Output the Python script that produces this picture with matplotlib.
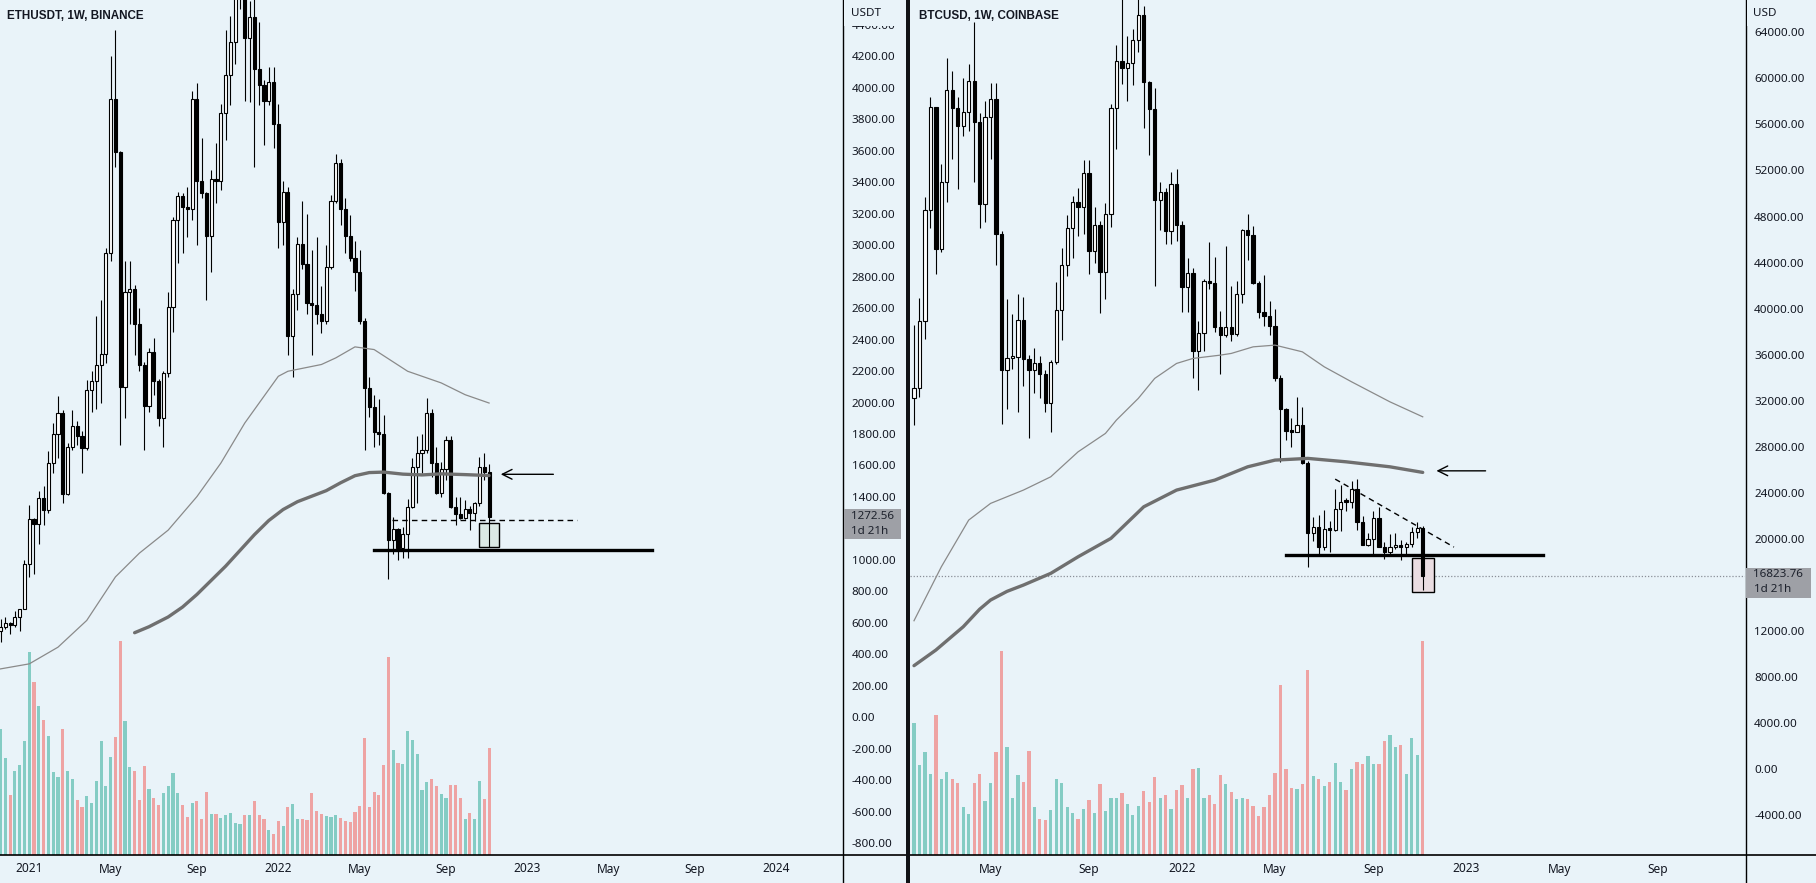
import numpy as np
import pandas as pd
import matplotlib
matplotlib.use('Agg')
import matplotlib.pyplot as plt
from matplotlib.patches import Rectangle
from matplotlib.lines import Line2D
from matplotlib.transforms import blended_transform_factory

plt.rcParams['font.family'] = ['Noto Sans', 'DejaVu Sans']

W, H = 1816, 883
BG = '#e9f3f9'
INK = '#131722'
UP_VOL = '#84ccc4'
DN_VOL = '#eea3a3'

# ---------------- ETHUSDT weekly (Binance) ----------------
eth_start = '2020-11-23'
eth_open = [550, 575, 600, 585, 638, 685, 975, 1262, 1230, 1391,
            1314, 1614, 1800, 1935, 1416, 1720, 1851, 1790, 1710, 2080,
            2140, 2240, 2310, 2950, 3930, 3590, 2100, 2700, 2720, 2500,
            2240, 1980, 2320, 2140, 1900, 2190, 2610, 3160, 3310, 3240,
            3230, 3930, 3410, 3330, 3060, 3420, 3410, 3840, 4080, 4290,
            4620, 4640, 4320, 4450, 4120, 4020, 3920, 4040, 3770, 3150,
            3340, 2420, 2690, 3010, 2880, 2630, 2620, 2560, 2520, 2860,
            3280, 3520, 3230, 3060, 2920, 2830, 2520, 2090, 1970, 1810,
            1800, 1424, 1126, 1194, 1073, 1164, 1338, 1593, 1680, 1700,
            1935, 1616, 1425, 1578, 1763, 1336, 1292, 1266, 1321, 1300,
            1360, 1591, 1561]
eth_high = [622, 635, 605, 675, 690, 1000, 1350, 1265, 1440, 1470,
            1690, 1870, 2040, 1950, 1740, 1950, 1880, 1820, 2145, 2200,
            2550, 2650, 2980, 4200, 4370, 3600, 2900, 2900, 2750, 2600,
            2260, 2350, 2410, 2150, 2200, 2700, 3180, 3340, 3330, 3370,
            3980, 4030, 3680, 3340, 3480, 3650, 3900, 4370, 4460, 4660,
            4870, 4650, 4550, 4780, 4420, 4050, 4130, 4130, 3900, 3410,
            3370, 2720, 3050, 3280, 3200, 2970, 3050, 2740, 3000, 3320,
            3580, 3550, 3300, 3190, 3030, 2970, 2540, 2160, 2050, 2020,
            1920, 1430, 1270, 1200, 1210, 1390, 1650, 1790, 1800, 2030,
            1960, 1720, 1620, 1790, 1790, 1400, 1400, 1380, 1340, 1370,
            1657, 1682, 1610]
eth_low = [480, 560, 530, 575, 550, 685, 890, 910, 1100, 1220,
           1300, 1550, 1650, 1360, 1410, 1700, 1730, 1550, 1700, 1940,
           1960, 2000, 2250, 2900, 3500, 1730, 1900, 2500, 2300, 2200,
           1700, 1940, 2050, 1850, 1720, 2160, 2450, 2890, 2950, 3050,
           3160, 3000, 3300, 2650, 2830, 3270, 3350, 3670, 3890, 4150,
           4500, 3920, 3910, 3500, 3890, 3640, 3890, 3620, 2980, 3000,
           2300, 2160, 2590, 2850, 2560, 2300, 2500, 2440, 2500, 2850,
           3270, 3130, 2950, 2900, 2710, 2500, 1700, 1910, 1720, 1730,
           1420, 880, 1040, 1000, 1010, 1010, 1330, 1360, 1550, 1680,
           1530, 1420, 1400, 1510, 1330, 1220, 1260, 1260, 1190, 1250,
           1340, 1510, 1079]
eth_close = [575, 600, 585, 638, 685, 975, 1262, 1230, 1391, 1314,
             1614, 1800, 1935, 1416, 1720, 1851, 1790, 1710, 2080, 2140,
             2240, 2310, 2950, 3930, 3590, 2100, 2700, 2720, 2500, 2240,
             1980, 2320, 2140, 1900, 2190, 2610, 3160, 3310, 3240, 3230,
             3930, 3410, 3330, 3060, 3420, 3410, 3840, 4080, 4290, 4620,
             4640, 4320, 4450, 4120, 4020, 3920, 4040, 3770, 3150, 3340,
             2420, 2690, 3010, 2880, 2630, 2620, 2560, 2520, 2860, 3280,
             3520, 3230, 3060, 2920, 2830, 2520, 2090, 1970, 1810, 1800,
             1424, 1126, 1194, 1073, 1164, 1338, 1593, 1680, 1700, 1935,
             1616, 1425, 1578, 1763, 1336, 1292, 1266, 1321, 1300, 1360,
             1591, 1561, 1272.56]
eth_vol = [126, 97, 60, 84, 90, 114, 203, 173, 149, 135,
           119, 83, 78, 126, 84, 76, 55, 48, 59, 52,
           74, 114, 69, 98, 118, 214, 134, 88, 84, 55,
           89, 66, 57, 50, 62, 69, 82, 62, 50, 38,
           52, 54, 36, 63, 41, 41, 37, 40, 42, 32,
           31, 40, 40, 54, 40, 36, 25, 21, 34, 29,
           48, 51, 36, 36, 35, 62, 44, 41, 39, 38,
           40, 37, 34, 33, 43, 49, 117, 48, 63, 60,
           90, 198, 105, 92, 91, 124, 115, 101, 65, 73,
           76, 69, 61, 57, 70, 70, 57, 36, 42, 36,
           74, 56, 107]
# moving averages (week index -> value)
eth_ma_thin_idx = [0, 6, 12, 18, 24, 29, 35, 41, 46, 51, 58, 60, 67, 70, 74, 78, 85, 92, 97, 102]
eth_ma_thin = [307, 339, 445, 615, 892, 1043, 1189, 1402, 1615, 1870,
               2167, 2199, 2242, 2284, 2354, 2337, 2199, 2125, 2050, 1997]
eth_ma_thick_idx = [28, 31, 35, 38, 41, 44, 47, 50, 53, 56, 59, 62, 65, 68, 71, 74,
                    77, 80, 84, 88, 92, 97, 102]
eth_ma_thick = [537, 575, 637, 700, 780, 870, 960, 1060, 1160, 1250, 1320, 1370,
                1405, 1440, 1490, 1535, 1555, 1558, 1545, 1540, 1547, 1542, 1536]
eth_last = 1272.56
eth_support = 1063
eth_mid_level = 1252
eth_box = (1080, 1236)
eth_arrow_level = 1544
eth_ticks = np.arange(-800, 4401, 200)
eth_date_ticks = ['2021-01-04', '2021-05-03', '2021-09-06', '2022-01-03', '2022-05-02',
                  '2022-09-05', '2023-01-02', '2023-05-01', '2023-09-04', '2024-01-01']
eth_date_labels = ['2021', 'May', 'Sep', '2022', 'May', 'Sep', '2023', 'May', 'Sep', '2024']

# ---------------- BTCUSD weekly (Coinbase) ----------------
btc_start = '2021-01-25'
btc_open = [32280, 33110, 38900, 48600, 57500, 45200, 51000, 59000, 57400, 55900,
            57100, 59800, 56200, 49100, 56600, 58200, 46500, 34700, 35700, 35800,
            39000, 35600, 34700, 35300, 34300, 31800, 35400, 39900, 43800, 47000,
            49300, 48800, 51800, 45000, 47300, 43200, 48200, 57400, 61500, 60900,
            61300, 63300, 65500, 59700, 57300, 49400, 50100, 46700, 50800, 47300,
            41900, 43100, 36300, 37900, 42400, 42200, 38400, 37700, 38400, 37800,
            41300, 46800, 46400, 42200, 39700, 39400, 38500, 34000, 31300, 29400,
            29300, 29900, 26560, 20500, 21000, 19300, 20830, 20800, 22570, 23230,
            23180, 24305, 21500, 19470, 19965, 21790, 19330, 18900, 19300, 19470,
            19270, 19560, 20630, 20980]
btc_high = [38600, 40950, 49700, 58350, 57500, 52600, 61800, 60600, 58400, 60000,
            61200, 64900, 57000, 58000, 59600, 59600, 46700, 40800, 39500, 41300,
            41000, 36000, 36600, 35900, 34700, 35500, 42300, 45300, 48100, 49800,
            50500, 52900, 52900, 48800, 47600, 49200, 57800, 62900, 67000, 63700,
            64300, 69000, 66300, 59800, 59200, 51000, 50500, 51900, 52100, 47600,
            44400, 43500, 38900, 42600, 45800, 44500, 39800, 45400, 42000, 42400,
            46900, 48200, 47200, 42400, 42900, 40700, 40000, 34200, 31400, 30500,
            32300, 31500, 26800, 21900, 22100, 22500, 21600, 24300, 24700, 23600,
            25000, 25200, 22000, 20500, 22400, 22800, 19700, 20400, 20500, 19950,
            19700, 21000, 21500, 21100]
btc_low = [29900, 32300, 37400, 47000, 43000, 44900, 49300, 53000, 50400, 55000,
           55400, 51000, 47000, 47500, 53000, 43800, 30000, 31300, 34800, 31000,
           33300, 28800, 32700, 32200, 31000, 29300, 35200, 37300, 42800, 44400,
           46300, 46500, 43000, 44000, 39600, 40800, 47100, 53900, 59500, 58000,
           59400, 62300, 55700, 53300, 42000, 46800, 45600, 45600, 45900, 39700,
           39700, 34000, 32900, 36300, 41700, 38000, 34300, 37500, 37200, 37600,
           40500, 44200, 42100, 39200, 38500, 37700, 33700, 26700, 28600, 28000,
           29300, 26500, 17600, 19800, 18600, 19000, 18900, 20700, 20700, 22400,
           22700, 20800, 19450, 19400, 18600, 19300, 18230, 18500, 19100, 18200,
           18700, 19300, 20050, 15560]
btc_close = [33110, 38900, 48600, 57500, 45200, 51000, 59000, 57400, 55900, 57100,
             59800, 56200, 49100, 56600, 58200, 46500, 34700, 35700, 35800, 39000,
             35600, 34700, 35300, 34300, 31800, 35400, 39900, 43800, 47000, 49300,
             48800, 51800, 45000, 47300, 43200, 48200, 57400, 61500, 60900, 61300,
             63300, 65500, 59700, 57300, 49400, 50100, 46700, 50800, 47300, 41900,
             43100, 36300, 37900, 42400, 42200, 38400, 37700, 38400, 37800, 41300,
             46800, 46400, 42200, 39700, 39400, 38500, 34000, 31300, 29400, 29300,
             29900, 26560, 20500, 21000, 19300, 20830, 20800, 22570, 23230, 23180,
             24305, 21500, 19470, 19965, 21790, 19330, 18900, 19300, 19470, 19270,
             19560, 20630, 20980, 16823.76]
btc_vol = [132, 90, 103, 81, 140, 76, 83, 76, 72, 48,
           41, 72, 81, 54, 72, 103, 204, 108, 57, 80,
           73, 104, 48, 36, 35, 45, 76, 72, 48, 42,
           36, 46, 55, 42, 71, 44, 57, 57, 62, 51,
           40, 49, 64, 53, 78, 57, 60, 46, 65, 70,
           57, 86, 87, 57, 60, 51, 80, 71, 63, 56,
           57, 56, 49, 39, 48, 60, 82, 170, 86, 67,
           66, 71, 185, 79, 76, 69, 73, 92, 73, 65,
           86, 93, 91, 99, 91, 91, 114, 120, 108, 110,
           81, 117, 100, 214]
btc_ma_thin_idx = [0, 5, 10, 14, 20, 25, 30, 35, 37, 41, 44, 48, 51, 56, 58, 62, 66, 71, 75, 80, 87, 93]
btc_ma_thin = [12900, 17587, 21641, 23090, 24245, 25399, 27569, 29167, 30321, 32205, 33941,
               35243, 35677, 35964, 36111, 36684, 36832, 36250, 34948, 33646, 31910, 30608]
btc_ma_thick_idx = [0, 4, 9, 12, 14, 17, 20, 25, 30, 36, 42, 48, 55, 61, 66, 72, 79, 87, 93]
btc_ma_thick = [9000, 10356, 12378, 13900, 14700, 15450, 15998, 17014, 18455, 20052, 22795,
                24245, 25113, 26267, 26849, 26997, 26701, 26267, 25781]
btc_last = 16823.76
btc_support = 18627
btc_trend = (25198, 19295)
btc_box = (15389, 18367)
btc_arrow_level = 25917
btc_ticks = np.arange(-4000, 64001, 4000)
btc_date_ticks = ['2021-05-03', '2021-09-06', '2022-01-03', '2022-05-02', '2022-09-05',
                  '2023-01-02', '2023-05-01', '2023-09-04']
btc_date_labels = ['May', 'Sep', '2022', 'May', 'Sep', '2023', 'May', 'Sep']


def fx(px):
    return px / W


def fy(py):
    return 1 - py / H


def day(start, d):
    return (pd.Timestamp(d) - pd.Timestamp(start)).days


def draw_panel(left, width, o, h, l, c, vol, ylim, xlim, body_w):
    o, h, l, c = map(np.asarray, (o, h, l, c))
    x = np.arange(len(o)) * 7.0
    rect = [fx(left), fy(855), fx(width), 855 / H]

    vax = fig.add_axes(rect, zorder=1)
    vax.axis('off')
    cols = [UP_VOL if cc >= oo else DN_VOL for oo, cc in zip(o, c)]
    vax.bar(x, vol, body_w, color=cols, lw=0)
    vax.set_ylim(0, 4 * max(vol))
    vax.set_xlim(*xlim)

    ax = fig.add_axes(rect, zorder=2)
    ax.patch.set_alpha(0)
    for s in ax.spines.values():
        s.set_visible(False)
    ax.set_xlim(*xlim)
    ax.set_ylim(*ylim)
    ax.set_xticks([])

    up = c >= o
    lo = np.minimum(o, c)
    ht = np.maximum(np.abs(c - o), (ylim[1] - ylim[0]) * 0.0025)
    ax.vlines(x, l, h, color='black', lw=0.8, zorder=2)
    ax.bar(x[up], ht[up], body_w, bottom=lo[up], facecolor='white',
           edgecolor='black', lw=0.8, zorder=3)
    ax.bar(x[~up], ht[~up], body_w, bottom=lo[~up], facecolor='black',
           edgecolor='black', lw=0.8, zorder=3)
    return ax


fig = plt.figure(figsize=(W / 100, H / 100), dpi=100)
fig.patch.set_facecolor(BG)

# ETH panel: first bar at 0.5 px, 4.79 px per week
eth_ppd = 4.79 / 7
eth_xlim = (-0.5 / eth_ppd, (843 - 0.5) / eth_ppd)
eth_ylim = (-876, 4559)
ax1 = draw_panel(0, 843, eth_open, eth_high, eth_low, eth_close, eth_vol,
                 eth_ylim, eth_xlim, 4.6)
ax1.plot(np.array(eth_ma_thin_idx) * 7, eth_ma_thin, color='#8a8a8a', lw=0.9, zorder=4)
ax1.plot(np.array(eth_ma_thick_idx) * 7, eth_ma_thick, color='#6f6f6f', lw=2.4, zorder=4,
         solid_capstyle='round', solid_joinstyle='round')

# BTC panel: first bar at 914 px, 5.47 px per week
btc_ppd = 5.47 / 7
btc_xlim = (-4 / btc_ppd, (1745.5 - 914) / btc_ppd)
btc_ylim = (-7440, 66800)
ax2 = draw_panel(910, 835.5, btc_open, btc_high, btc_low, btc_close, btc_vol,
                 btc_ylim, btc_xlim, 4.2)
ax2.plot(np.array(btc_ma_thin_idx) * 7, btc_ma_thin, color='#8a8a8a', lw=0.9, zorder=4)
ax2.plot(np.array(btc_ma_thick_idx) * 7, btc_ma_thick, color='#6f6f6f', lw=2.4, zorder=4,
         solid_capstyle='round', solid_joinstyle='round')

# ---- drawings on ETH
s = eth_start
ax1.plot([day(s, '2022-05-23'), day(s, '2023-07-03')], [eth_support] * 2, color='black',
         lw=2.4, zorder=5)
ax1.plot([day(s, '2022-06-18'), day(s, '2023-03-15')], [eth_mid_level] * 2, color='black',
         lw=1.0, ls=(0, (4, 3)), zorder=5)
ax1.add_patch(Rectangle((day(s, '2022-10-24'), eth_box[0]), 28, eth_box[1] - eth_box[0],
                        facecolor='#dbe9e5', edgecolor='black', lw=1.0, zorder=1))
ax1.annotate('', xy=(day(s, '2022-11-20'), eth_arrow_level),
             xytext=(day(s, '2023-02-13'), eth_arrow_level),
             arrowprops=dict(arrowstyle='->,head_length=0.7,head_width=0.35', lw=1.0, color='black'),
             zorder=6)

# ---- drawings on BTC
s = btc_start
ax2.axhline(btc_last, color='#8a8f98', lw=0.9, ls=(0, (1, 1.5)), zorder=1)
ax2.plot([day(s, '2022-05-16'), day(s, '2023-04-10')], [btc_support] * 2, color='black',
         lw=2.4, zorder=5)
ax2.plot([day(s, '2022-07-18'), day(s, '2022-12-17')], btc_trend, color='black',
         lw=1.0, ls=(0, (4, 3)), zorder=5)
ax2.add_patch(Rectangle((day(s, '2022-10-24'), btc_box[0]), 28, btc_box[1] - btc_box[0],
                        facecolor='#eadde2', edgecolor='black', lw=1.0, zorder=1))
ax2.annotate('', xy=(day(s, '2022-11-21'), btc_arrow_level),
             xytext=(day(s, '2023-01-30'), btc_arrow_level),
             arrowprops=dict(arrowstyle='->,head_length=0.7,head_width=0.35', lw=1.0, color='black'),
             zorder=6)

# ---- price scales, date scales, labels
for ax, ticks, start, dticks, dlabels, axis_x, unit, title, title_x, last, box_w in [
        (ax1, eth_ticks, eth_start, eth_date_ticks, eth_date_labels, 843, 'USDT',
         'ETHUSDT, 1W, BINANCE', 7, eth_last, 57),
        (ax2, btc_ticks, btc_start, btc_date_ticks, btc_date_labels, 1745.5, 'USD',
         'BTCUSD, 1W, COINBASE', 919, btc_last, 65)]:
    ypx = H - ax.transData.transform((0, last))[1]
    ax.yaxis.tick_right()
    ax.set_yticks(ticks)
    # the last-price badge hides the tick label it sits on
    labels = []
    for t in ticks:
        ty = H - ax.transData.transform((0, t))[1]
        labels.append('' if ypx - 14 < ty < ypx + 28 else f'{t:.2f}')
    ax.set_yticklabels(labels)
    ax.tick_params(axis='y', length=0, pad=6.2, labelsize=8.4, labelcolor=INK)
    tr = blended_transform_factory(ax.transData, fig.transFigure)
    for d, lab in zip(dticks, dlabels):
        ax.text(day(start, d), fy(869), lab, transform=tr, ha='center', va='center',
                fontsize=8.6, color=INK, clip_on=False)
    fig.add_artist(Line2D([fx(axis_x)] * 2, [0, 1], color='black', lw=1.0))
    fig.add_artist(Rectangle((fx(axis_x + 1), fy(26)), fx(60), 26 / H, facecolor=BG,
                             edgecolor='none', zorder=5))
    fig.text(fx(axis_x + 8), fy(14), unit, fontsize=8.4, color=INK, ha='left', va='center',
             zorder=6)
    fig.text(fx(title_x), fy(16), title, fontsize=8.4, fontweight='bold', color=INK,
             ha='left', va='center', family=['Liberation Sans', 'DejaVu Sans'])
    # last price badge
    fig.add_artist(Rectangle((fx(axis_x + 0.5), fy(ypx + 22)), fx(box_w), 30 / H,
                             facecolor='#9ea0a6', edgecolor='none', zorder=5))
    fig.text(fx(axis_x + 8), fy(ypx - 1), f'{last:.2f}', fontsize=8.4, color='#1e222d',
             ha='left', va='center', zorder=6)
    fig.text(fx(axis_x + 8), fy(ypx + 14), '1d 21h', fontsize=8.4, color='#1e222d',
             ha='left', va='center', zorder=6)

# bottom time-scale border and panel divider
fig.add_artist(Line2D([0, 1], [fy(855)] * 2, color='black', lw=1.2))
fig.add_artist(Rectangle((fx(905.5), 0), fx(4.5), 1, facecolor='#101216', edgecolor='none',
                         zorder=7))

fig.savefig('out.png', dpi=100, facecolor=BG)
